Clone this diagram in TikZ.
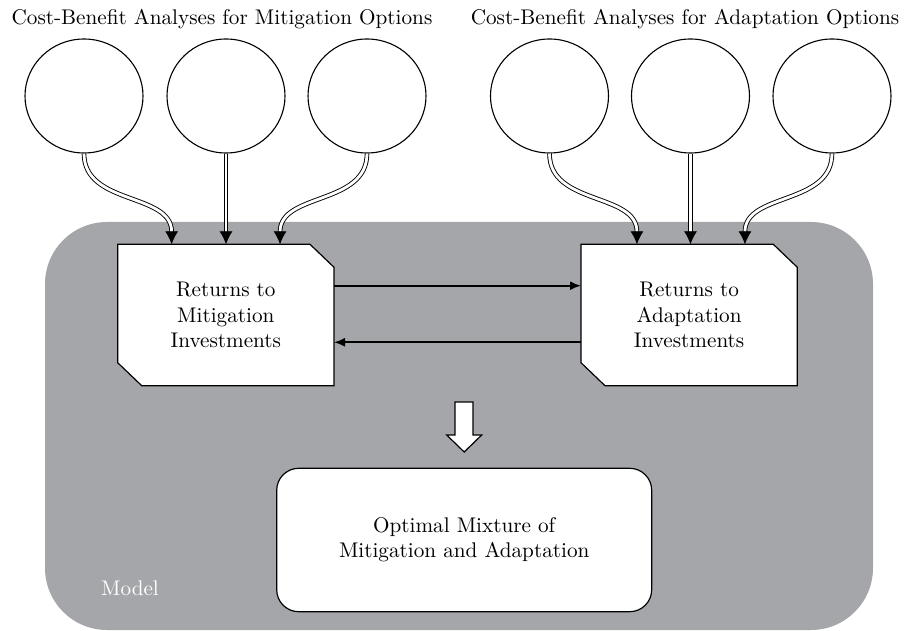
\documentclass[tikz,border=0pt]{standalone}
\usetikzlibrary{arrows.meta,shapes.geometric}
\definecolor{modelgray}{RGB}{165,166,170}
\pgfdeclarelayer{bg}
\pgfdeclarelayer{mid}
\pgfsetlayers{bg,mid,main}
\begin{document}
\begin{tikzpicture}[x=0.5pt,y=-0.5pt,
  font=\fontsize{10.6pt}{12.6pt}\selectfont,
  opt/.style={draw, ellipse, minimum width=59pt, minimum height=57pt, line width=0.55pt, inner sep=0pt},
  retbox/.style={rectangle, minimum width=108.15pt, minimum height=70.7pt, inner sep=0pt, outer sep=0pt, align=center},
  chamf/.style={draw, fill=white, line width=0.6pt},
  feed/.style={double, line width=0.45pt, double distance=1.4pt, -{Latex[length=6.5pt,width=6.5pt]}},
  link/.style={line width=0.9pt, -{Latex[length=5.5pt,width=4.5pt]}},
  resultbox/.style={draw, fill=white, rounded corners=11pt, minimum width=187.5pt, minimum height=71.7pt, line width=0.6pt, align=center, inner sep=0pt, outer sep=0pt},
  blockarrow/.style={draw, fill=white, line width=0.6pt}
]
\useasboundingbox (0,0) rectangle (907,631);
\begin{pgfonlayer}{bg}
  \fill[modelgray, rounded corners=31pt] (45,222) rectangle (873,630);
\end{pgfonlayer}

% titles
\node[anchor=base] (t1) at (222,25) {Cost-Benefit Analyses for Mitigation Options};
\node[anchor=base] (t2) at (685,25) {Cost-Benefit Analyses for Adaptation Options};

% option circles
\node[opt] (m1) at (84,96) {};
\node[opt] (m2) at (226,96) {};
\node[opt] (m3) at (367,96) {};
\node[opt] (a1) at (549.5,96) {};
\node[opt] (a2) at (690.5,96) {};
\node[opt] (a3) at (832,96) {};

% return boxes
\node[retbox] (mit) at (225.85,315) {Returns to\\Mitigation\\Investments};
\node[retbox] (ada) at (689.15,315) {Returns to\\Adaptation\\Investments};
\begin{pgfonlayer}{mid}
  \foreach \b in {mit,ada}
    \draw[chamf] (\b.north west) -- ([xshift=-12pt]\b.north east) -- ([yshift=-11.5pt]\b.north east)
      -- (\b.south east) -- ([xshift=12pt]\b.south west) -- ([yshift=11.5pt]\b.south west) -- cycle;
\end{pgfonlayer}

% feeds
\draw[feed] (m1.south) .. controls +(0,52) and +(0,-52) .. ([xshift=-27.1pt]mit.north);
\draw[feed] (m2.south) -- (m2.south |- mit.north);
\draw[feed] (m3.south) .. controls +(0,52) and +(0,-52) .. ([xshift=27.1pt]mit.north);
\draw[feed] (a1.south) .. controls +(0,52) and +(0,-52) .. ([xshift=-26.1pt]ada.north);
\draw[feed] (a2.south) -- (a2.south |- ada.north);
\draw[feed] (a3.south) .. controls +(0,52) and +(0,-52) .. ([xshift=27.9pt]ada.north);

% links between boxes
\draw[link] ([yshift=14.65pt]mit.east) -- ([yshift=14.65pt]ada.west);
\draw[link] ([yshift=-13.65pt]ada.west) -- ([yshift=-13.65pt]mit.east);

% block arrow
\draw[blockarrow] (455,402) -- (473,402) -- (473,435) -- (481.7,435) -- (464.2,452) -- (446.7,435) -- (455,435) -- cycle;

% result
\node[resultbox] (res) at (464.2,540) {Optimal Mixture of\\Mitigation and Adaptation};

\node[text=white] (model) at (130,588) {Model};
\end{tikzpicture}
\end{document}
